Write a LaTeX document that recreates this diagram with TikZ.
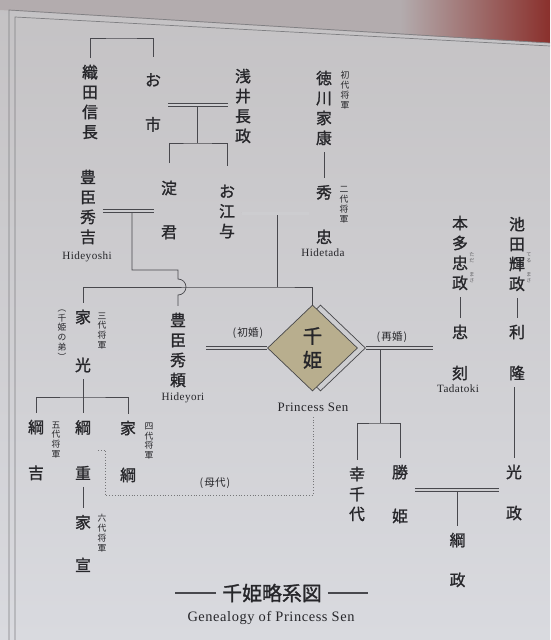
\documentclass[tikz,border=0pt]{standalone}
\usepackage{fontspec}
\setmainfont{Liberation Serif}
\newfontfamily\jp{Noto Sans CJK JP}[FakeBold=1.3]
\newfontfamily\jpsmall{Noto Sans CJK JP}
\newfontfamily\en{Liberation Serif}[LetterSpace=4]
\usetikzlibrary{calc,shapes.geometric}
\definecolor{ink}{HTML}{26262A}
\definecolor{rule}{HTML}{48484D}
\definecolor{paper}{HTML}{CDCDD0}
\definecolor{paperTop}{HTML}{C4C2C4}
\definecolor{paperLow}{HTML}{D9DADF}
\definecolor{khaki}{HTML}{B8AE8E}
\definecolor{wall}{HTML}{B3ACAE}
\definecolor{wallRed}{HTML}{8A302C}
\tikzset{
  person/.style={font=\jp\fontsize{13.5}{17}\selectfont,text=ink,align=center,inner sep=1pt,outer sep=5pt},
  rank/.style={font=\jpsmall\fontsize{7.5}{8.4}\selectfont,text=ink,align=center,inner sep=0pt},
  kana/.style={font=\jpsmall\fontsize{4.3}{5}\selectfont,text=ink!75,align=center,inner sep=0pt},
  roman/.style={font=\en\fontsize{9.5}{11}\selectfont,text=ink,inner sep=0pt},
  note/.style={font=\jpsmall\fontsize{9}{11}\selectfont,text=ink,inner sep=0pt},
  link/.style={draw=rule,line width=0.6pt},
  wed/.style={draw=rule,line width=0.55pt,double=paper,double distance=2.1pt},
  proxyline/.style={draw=rule!75,line width=0.5pt,dash pattern=on 0.8pt off 1.6pt},
  princess/.style={diamond,aspect=1,minimum width=2.7cm,minimum height=2.58cm,inner sep=0pt,draw=ink!85,line width=0.6pt},
  frameline/.style={draw=rule!70,line width=0.6pt}
}

\begin{document}
\begin{tikzpicture}[x=0.03cm,y=-0.03cm]
  \useasboundingbox (0,0) rectangle (550,640);
  \shade[top color=paperTop,bottom color=paperLow] (0,0) rectangle (550,640);
  \fill[wall] (0,0) -- (400,0) -- (400,34.5) -- (0,10) -- cycle;
  \shade[left color=wall,right color=wallRed] (400,0) -- (550,0) -- (550,43) -- (400,34.5) -- cycle;
  \draw[frameline] (9,640) -- (9,10) -- (550,43);
  \draw[frameline] (15,640) -- (15,17) -- (550,46);

  % people
  \node[person] (nobunaga) at (90,102) {織\\田\\信\\長};
  \node[person] (oichi) at (153,102.5) {お\\[21pt]市};
  \node[person] (nagamasa) at (243,106) {浅\\井\\長\\政};
  \node[person] (ieyasu) at (324,108) {徳\\川\\家\\康};
  \node[rank] (rank1) at (345,90) {初\\代\\将\\軍};
  \node[person] (hidetada) at (324,214.5) {秀\\[21pt]忠};
  \node[rank] (rank2) at (344,205) {二\\代\\将\\軍};
  \node[roman] (hidetadaEn) at (323,253) {Hidetada};
  \node[person] (hideyoshi) at (88,207) {豊\\臣\\秀\\吉};
  \node[roman] (hideyoshiEn) at (87,257) {Hideyoshi};
  \node[person] (yodo) at (169,210) {淀\\[20.5pt]君};
  \node[person] (ogo) at (227,211.5) {お\\江\\与};
  \node[person] (hideyori) at (178,350) {豊\\臣\\秀\\頼};
  \node[roman] (hideyoriEn) at (183,398) {Hideyori};
  \node[person] (iemitsu) at (83,341) {家\\[24pt]光};
  \node[rank] (brother) at (62,335) {︵\\千\\姫\\の\\弟\\︶};
  \node[rank] (rank3) at (102,331) {三\\代\\将\\軍};
  \node[person] (tsunayoshi) at (36,450) {綱\\[22pt]吉};
  \node[rank] (rank5) at (56,440) {五\\代\\将\\軍};
  \node[person] (tsunashige) at (83,450) {綱\\[22pt]重};
  \node[person] (ienobu) at (83,543.5) {家\\[19.5pt]宣};
  \node[rank] (rank6) at (102,533) {六\\代\\将\\軍};
  \node[person] (ietsuna) at (128,451.5) {家\\[23pt]綱};
  \node[rank] (rank4) at (149,441) {四\\代\\将\\軍};

  \node[princess,fill=paper] (senback) at (320.5,348) {};
  \node[princess,fill=khaki,font=\jp\fontsize{16.5}{20.4}\selectfont,text=ink,align=center] (sen) at (312.5,348) {千\\姫};
  \node[roman,font=\en\fontsize{11}{13}\selectfont] (senEn) at (313,407) {Princess Sen};
  \node[note] (first) at (248,333) {(\kern1pt初婚\kern1pt)};
  \node[note] (second) at (392,337) {(\kern1pt再婚\kern1pt)};

  \node[person] (tadamasa) at (460,253) {本\\多\\忠\\政};
  \node[kana] (tadaKana) at (472,258) {た\\だ};
  \node[kana] (masaKana1) at (472,278) {ま\\さ};
  \node[person] (terumasa) at (517,254) {池\\田\\輝\\政};
  \node[kana] (teruKana) at (529,258) {て\\る};
  \node[kana] (masaKana2) at (529,278) {ま\\さ};
  \node[person] (tadatoki) at (460,352.5) {忠\\[18pt]刻};
  \node[roman] (tadatokiEn) at (458,389) {Tadatoki};
  \node[person] (toshitaka) at (517,352.5) {利\\[18pt]隆};
  \node[person] (mitsumasa) at (514,492.5) {光\\[18pt]政};
  \node[person] (kochiyo) at (357,494) {幸\\千\\代};
  \node[person] (katsuhime) at (400,494) {勝\\[20.4pt]姫};
  \node[person] (tsunamasa) at (457.5,560) {綱\\[17pt]政};
  \node[note] (proxy) at (215,483) {(\kern1pt母代\kern1pt)};

  % junctions
  \coordinate (top0) at (121,38);
  \coordinate (w1) at (197,105);
  \coordinate (c1) at (197,143);
  \coordinate (w2) at (132,211);
  \coordinate (b1) at (178,270);
  \coordinate (hop) at (178,287);
  \coordinate (w3) at (277.5,213.5);
  \coordinate (j3) at (277.5,287);
  \coordinate (c7) at (83,397);
  \coordinate (d5) at (380,348);
  \coordinate (c5) at (380,423);
  \coordinate (w6) at (457.5,490);
  \coordinate (p1) at (105,495);

  \draw[link] (nobunaga.north) |- (top0) -| ([yshift=8pt]oichi.north);
  \draw[link] (w1) -- (c1);
  \draw[link] ([yshift=9pt]yodo.north) |- (c1) -| ([yshift=10pt]ogo.north);
  \draw[link] (ieyasu.south) -- (hidetada.north);
  \draw[link] (w2) |- (b1) -- ($(hop)+(0,-8)$) arc[start angle=-90,end angle=90,radius=8] -- (hideyori.north);
  \draw[link] (w3) -- (j3);
  \draw[link] (iemitsu.north) |- (j3) -| (sen.north);
  \draw[link] (iemitsu.south) -- (c7);
  \draw[link] (tsunayoshi.north) |- (c7) -| (ietsuna.north);
  \draw[link] (c7) -- (tsunashige.north);
  \draw[link] (tsunashige.south) -- (ienobu.north);
  \draw[link] (d5) -- (c5);
  \draw[link] (kochiyo.north) |- (c5) -| (katsuhime.north);
  \draw[link] (tadamasa.south) -- (tadatoki.north);
  \draw[link] (terumasa.south) -- (toshitaka.north);
  \draw[link] (toshitaka.south -| mitsumasa) -- (mitsumasa.north);
  \draw[link] (w6) -- (tsunamasa.north);
  \draw[proxyline,shorten >=5pt] (tsunashige.east) -| (p1) -| (senEn.south);

  % marriages
  \draw[wed] (oichi.east |- w1) -- (nagamasa.west |- w1);
  \draw[wed] (hideyoshi.east |- w2) -- (yodo.west |- w2);
  \draw[wed] (ogo.east |- w3) -- (hidetada.west |- w3);
  \draw[wed] ([xshift=11pt]hideyori.east |- sen.west) -- (sen.west);
  \draw[wed] (senback.east) -- ([xshift=-10pt]tadatoki.west |- senback.east);
  \draw[wed] (katsuhime.east |- w6) -- (mitsumasa.west |- w6);

  \node[font=\jp\fontsize{17}{20}\selectfont,text=ink,inner sep=5pt] (title) at (272,593) {千姫略系図};
  \draw[link,line width=1.1pt] (title.west) -- ++(-41,0);
  \draw[link,line width=1.1pt] (title.east) -- ++(40,0);
  \node[roman,font=\en\fontsize{12.3}{14}\selectfont] (subtitle) at (271,618) {Genealogy of Princess Sen};
\end{tikzpicture}
\end{document}
